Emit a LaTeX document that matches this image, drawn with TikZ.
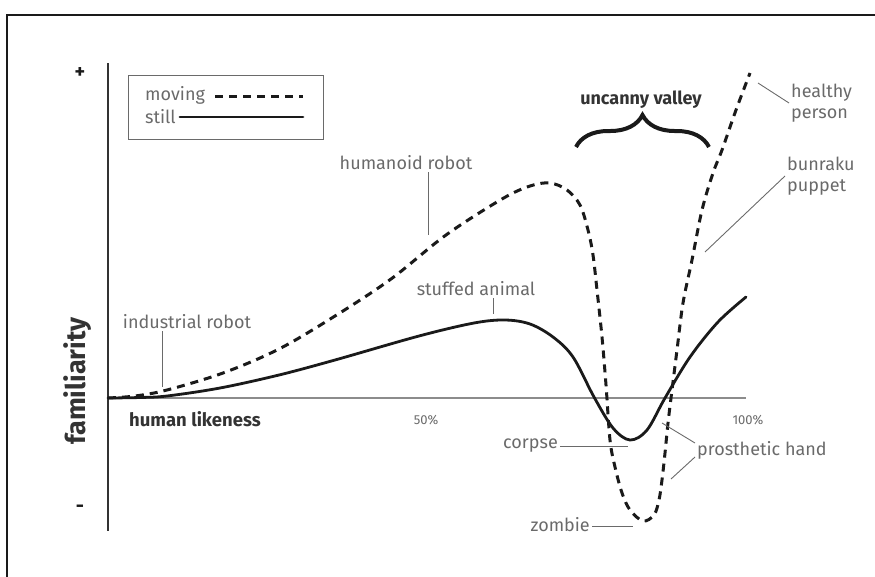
\documentclass[tikz,border=0pt]{standalone}
\usepackage{fontspec}
\setmainfont{Fira Sans}
\usepackage{tikz}
\usetikzlibrary{positioning,decorations.pathreplacing}
\definecolor{ink}{HTML}{1A1A1A}
\definecolor{ink2}{HTML}{333333}
\definecolor{lbl}{HTML}{6A6A6A}
\definecolor{axisgrey}{HTML}{8C8C8C}

\begin{document}
\begin{tikzpicture}[x=1pt,y=-1pt,
  every node/.style={font=\fontsize{18}{21}\selectfont,text=lbl,inner sep=2pt},
  curve/.style={ink,line width=2.8pt,line cap=round},
  moving/.style={ink,line width=3pt,dash pattern=on 8pt off 6pt},
  leader/.style={lbl,line width=0.9pt},
  axisline/.style={axisgrey,line width=1.3pt}]
  \clip (0,0) rectangle (875,576);
  % frame, only top and left edge inside the page
  \draw[ink,line width=1.8pt] (7,15) rectangle (900,600);

  % axes
  \coordinate (origin) at (108,398);
  \coordinate (ytop) at (108,63);
  \coordinate (ybot) at (108,531);
  \coordinate (xend) at (746,398);
  \draw[ink2,line width=1.1pt] (ytop) -- (ybot);
  \draw[axisline] (origin) -- (xend);
  \node[text=ink,font=\bfseries\fontsize{20}{22}\selectfont] (plus) at (80,73) {+};
  \node[text=ink,font=\bfseries\fontsize{20}{22}\selectfont] (minus) at (80,509) {-};
  \node[rotate=90,text=ink2,font=\bfseries\fontsize{27}{30}\selectfont] (fam) at (78,381) {familiarity};
  \node[anchor=west,text=ink2,font=\bfseries\fontsize{18.5}{21}\selectfont] (hlike) at (127,419) {human likeness};
  \node[font=\fontsize{13}{15}\selectfont] (half) at (426,420) {50\%};
  \node[font=\fontsize{13}{15}\selectfont] (full) at (748,420) {100\%};

  % legend
  \node[draw=lbl,line width=1pt,minimum width=195,minimum height=64] (legend) at (225.5,107) {};
  \node[anchor=west] (lgmove) at (143,95) {moving};
  \node[anchor=west] (lgstill) at (143,117) {still};
  \coordinate (lgmoveend) at (303,96);
  \coordinate (lgstillend) at (303,117);
  \draw[moving] ([xshift=8pt]lgmove.east |- lgmoveend) -- (lgmoveend);
  \draw[curve] ([xshift=2pt]lgstill.east |- lgstillend) -- (lgstillend);

  % uncanny valley brace
  \node[text=ink2,font=\bfseries\fontsize{18}{21}\selectfont] (uv) at (641,100) {uncanny valley};
  \coordinate (uvL) at (576,147);
  \coordinate (uvR) at (709,147);
  \draw[ink,line width=4pt,decorate,decoration={brace,amplitude=32pt,aspect=0.5}] (uvL) -- (uvR);

  % still
  \draw[curve] plot[smooth,tension=0.55] coordinates {
    (108,398) (140,397.5) (167,396) (220,388) (279,375) (335,360) (419,336)
    (474,323) (505,320) (530,324) (553,337) (573,357) (594,397) (613,428)
    (630,440) (647,430) (665,398) (690,357) (718,322) (746,297)};
  % moving
  \draw[moving] plot[smooth,tension=0.55] coordinates {
    (108,398) (135,396) (167,390) (223,373) (279,349) (335,316) (391,279)
    (446,235) (502,199) (530,186) (550,183) (567,190) (580,205) (588,230)
    (593,255) (597,290) (602,337) (606,385) (610,440) (615,467) (622,493)
    (630,510) (643,521) (654,515) (659,500) (662,480) (665,453) (668,423)
    (672,390) (677,350) (683,303) (692,260) (702,210) (713,173) (722,150)
    (736,110) (750,73)};

  % labels
  \node (irobot) at (187,322) {industrial robot};
  \coordinate (irtip) at (162,387);
  \draw[leader] (irobot.south -| irtip) -- (irtip);

  \node (hrobot) at (406,163) {humanoid robot};
  \coordinate (hrtip) at (428,235);
  \draw[leader] (hrobot.south -| hrtip) -- (hrtip);

  \node (sanimal) at (476,289) {stuffed animal};
  \coordinate (satip) at (493,314);
  \draw[leader] (sanimal.south -| satip) -- (satip);

  \node[anchor=west,align=left] (hperson) at (789,103) {healthy\\person};
  \coordinate (hptip) at (758,83);
  \draw[leader] (hperson.west) -- (hptip);

  \node[anchor=west,align=left] (bunraku) at (785,176) {bunraku\\puppet};
  \coordinate (bptip) at (705,252);
  \draw[leader] (bunraku.west) -- (bptip);

  \node[anchor=east] (corpse) at (560,446) {corpse};
  \coordinate (cptip) at (628,446);
  \draw[leader] (corpse.east |- cptip) -- (cptip);

  \node[anchor=east] (zombie) at (592,525) {zombie};
  \coordinate (zbtip) at (633,526);
  \draw[leader] (zombie.east |- zbtip) -- (zbtip);

  \node[anchor=west] (phand) at (695,450) {prosthetic hand};
  \coordinate (phtipA) at (662,423);
  \coordinate (phtipB) at (671,479);
  \draw[leader] ([yshift=7pt]phand.west) -- (phtipA);
  \draw[leader] ([yshift=-7pt]phand.west) -- (phtipB);
\end{tikzpicture}
\end{document}
